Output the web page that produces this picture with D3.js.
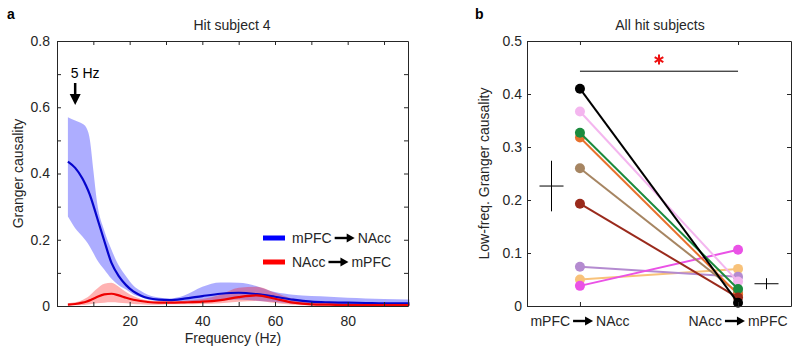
<!DOCTYPE html>
<html>
<head>
<meta charset="utf-8">
<script src="https://cdn.jsdelivr.net/npm/d3@7"></script>
<style>
  body { margin: 0; background: #fff; }
  svg { font-family: Arial, "Liberation Sans", sans-serif; }
  .axis text { font-size: 14px; fill: #262626; }
  .axis path, .axis line { stroke: #262626; }
</style>
</head>
<body>
<div id="chart"></div>
<script>
// ---- panel a data ----
const freq = [3, 5, 7, 8, 9, 10, 11, 13, 15, 17, 19, 21, 23, 25, 28, 31, 35, 40, 45, 50, 55, 60, 65, 70, 75, 80, 85, 90, 97];
const fwdMean  = [.436, .417, .385, .363, .337, .304, .268, .197, .13, .09, .063, .044, .032, .024, .019, .018, .022, .03, .037, .04, .036, .028, .019, .013, .011, .01, .009, .008, .008];
const fwdUpper = [.57, .56, .55, .54, .505, .41, .315, .228, .17, .122, .09, .062, .046, .034, .026, .023, .032, .058, .071, .07, .06, .042, .034, .03, .028, .025, .023, .021, .02];
const fwdLower = [.27, .235, .21, .196, .18, .16, .14, .11, .082, .063, .05, .035, .027, .02, .015, .014, .014, .016, .018, .02, .016, .012, .007, .005, .004, .004, .003, .003, .003];
const bwdMean  = [.004, .006, .01, .013, .017, .022, .027, .035, .037, .032, .025, .019, .015, .012, .01, .01, .011, .013, .018, .027, .032, .022, .01, .005, .004, .003, .003, .003, .003];
const bwdUpper = [.008, .011, .018, .024, .032, .042, .052, .067, .07, .058, .042, .03, .022, .017, .014, .014, .016, .021, .034, .055, .058, .04, .022, .012, .009, .008, .007, .006, .005];
const bwdLower = [.001, .002, .003, .004, .005, .007, .008, .01, .011, .01, .008, .006, .005, .004, .004, .005, .005, .006, .008, .013, .015, .009, .004, .002, .001, .001, .001, .001, .001];

// ---- panel b data ----
const conds = [1, 2];
const subjColors = ["#f8c27a", "#b48bd0", "#ea52e6", "#a68562", "#f4b6ef", "#e8702c", "#1b8b3e", "#9a2a1c", "#000000"];
const subjFwd = [0.050, 0.074, 0.038, 0.260, 0.367, 0.318, 0.327, 0.193, 0.410];
const subjBwd = [0.070, 0.055, 0.106, 0.025, 0.046, 0.022, 0.032, 0.016, 0.006];

const W = 800, H = 356;
const svg = d3.select("#chart").append("svg").attr("width", W).attr("height", H);

// draws "left ➜ right" with a filled arrow in between, centred at cx
function arrowLabel(g, cx, y, left, right) {
  const grp = g.append("g");
  const t1 = grp.append("text").attr("y", y).style("font-size", "14px").attr("fill", "#262626").text(left);
  const t2 = grp.append("text").attr("y", y).style("font-size", "14px").attr("fill", "#262626").text(right);
  const w1 = t1.node().getComputedTextLength(), w2 = t2.node().getComputedTextLength();
  const aw = 20, gap = 3;
  const total = w1 + gap + aw + gap + w2;
  const x0 = cx - total / 2;
  t1.attr("x", x0);
  t2.attr("x", x0 + w1 + gap * 2 + aw);
  const ax = x0 + w1 + gap, ay = y - 5;
  grp.append("line").attr("x1", ax).attr("x2", ax + aw - 6).attr("y1", ay).attr("y2", ay)
    .attr("stroke", "#000").attr("stroke-width", 2.4);
  grp.append("path").attr("d", `M${ax + aw - 8},${ay - 4.5}L${ax + aw},${ay}L${ax + aw - 8},${ay + 4.5}Z`).attr("fill", "#000");
  return total;
}

// ================= panel a =================
const xA = d3.scaleLinear().domain([0, 96.6]).range([57, 408]);
const yA = d3.scaleLinear().domain([0, 0.8]).range([306, 41]);

const gA = svg.append("g");

const band = (lo, hi) => d3.area().curve(d3.curveMonotoneX)
  .x((d, i) => xA(freq[i])).y0((d, i) => yA(lo[i])).y1((d, i) => yA(hi[i]));
const line = vals => d3.line().curve(d3.curveMonotoneX)
  .x((d, i) => xA(freq[i])).y((d, i) => yA(vals[i]));

gA.append("path").attr("d", band(fwdLower, fwdUpper)(freq)).attr("fill", "#0000ff").attr("fill-opacity", 0.32);
gA.append("path").attr("d", band(bwdLower, bwdUpper)(freq)).attr("fill", "#ff0000").attr("fill-opacity", 0.3);
gA.append("path").attr("d", line(fwdMean)(freq)).attr("fill", "none").attr("stroke", "#0505cc").attr("stroke-width", 2.2);
gA.append("path").attr("d", line(bwdMean)(freq)).attr("fill", "none").attr("stroke", "#ee0000").attr("stroke-width", 2.2);

// axes, matlab-like box with inward ticks
const xTicksA = d3.range(10, 100, 10);
const yTicksA = d3.range(0, 0.81, 0.1).map(v => +v.toFixed(1));
gA.append("g").attr("class", "axis").attr("transform", "translate(0,306)")
  .call(d3.axisBottom(xA).tickValues(xTicksA).tickSizeInner(-4).tickSizeOuter(0).tickPadding(10)
    .tickFormat(d => d % 20 === 0 ? d : ""));
gA.append("g").attr("class", "axis").attr("transform", "translate(0,41)")
  .call(d3.axisTop(xA).tickValues(xTicksA).tickSizeInner(-4).tickSizeOuter(0).tickFormat(""));
gA.append("g").attr("class", "axis").attr("transform", "translate(57,0)")
  .call(d3.axisLeft(yA).tickValues(yTicksA).tickSizeInner(-4).tickSizeOuter(0).tickPadding(7)
    .tickFormat(d => Math.round(d * 10) % 2 === 0 ? (d === 0 ? "0" : d3.format(".1f")(d)) : ""));
gA.append("g").attr("class", "axis").attr("transform", "translate(408,0)")
  .call(d3.axisRight(yA).tickValues(yTicksA).tickSizeInner(-4).tickSizeOuter(0).tickFormat(""));

gA.append("text").attr("x", 232).attr("y", 30).attr("text-anchor", "middle").style("font-size", "14px")
  .attr("fill", "#262626").text("Hit subject 4");
gA.append("text").attr("x", 233).attr("y", 343).attr("text-anchor", "middle").style("font-size", "14px")
  .attr("fill", "#262626").text("Frequency (Hz)");
gA.append("text").attr("transform", `translate(23,${(306 + 41) / 2}) rotate(-90)`).attr("text-anchor", "middle")
  .style("font-size", "14px").attr("fill", "#262626").text("Granger causality");
gA.append("text").attr("x", 7).attr("y", 19).style("font-size", "14px").style("font-weight", "bold").text("a");

// 5 Hz marker
const ax5 = xA(5);
gA.append("text").attr("x", ax5 + 10).attr("y", 78).attr("text-anchor", "middle").style("font-size", "14px").text("5 Hz");
gA.append("line").attr("x1", ax5).attr("x2", ax5).attr("y1", 83).attr("y2", 96).attr("stroke", "#000").attr("stroke-width", 2.5);
gA.append("path").attr("d", `M${ax5 - 5.5},${94}L${ax5 + 5.5},${94}L${ax5},${105}Z`).attr("fill", "#000");

// legend
const legA = gA.append("g");
[["#0000ff", "mPFC", "NAcc", 238], ["#ff0000", "NAcc", "mPFC", 262]].forEach(([c, l, r, yy]) => {
  legA.append("rect").attr("x", 263).attr("y", yy - 2.5).attr("width", 22).attr("height", 5).attr("fill", c);
  const g = legA.append("g");
  const tw = arrowLabel(g, 0, yy + 5, l, r);
  g.attr("transform", `translate(${292 + tw / 2},0)`);
});

// ================= panel b =================
const xB = d3.scaleLinear().domain([0.665, 2.335]).range([527, 791]);
const yB = d3.scaleLinear().domain([0, 0.5]).range([306, 41]);
const gB = svg.append("g");

subjFwd.forEach((v, i) => {
  gB.append("line").attr("x1", xB(1)).attr("x2", xB(2)).attr("y1", yB(v)).attr("y2", yB(subjBwd[i]))
    .attr("stroke", subjColors[i]).attr("stroke-width", 2);
  gB.append("circle").attr("cx", xB(1)).attr("cy", yB(v)).attr("r", 5).attr("fill", subjColors[i]);
  gB.append("circle").attr("cx", xB(2)).attr("cy", yB(subjBwd[i])).attr("r", 5).attr("fill", subjColors[i]);
});

// mean +- sem crosses beside each column
[[subjFwd, 0.82], [subjBwd, 2.18]].forEach(([vals, xc]) => {
  const m = d3.mean(vals), sem = d3.deviation(vals) / Math.sqrt(vals.length);
  gB.append("line").attr("x1", xB(xc - 0.076)).attr("x2", xB(xc + 0.076)).attr("y1", yB(m)).attr("y2", yB(m))
    .attr("stroke", "#000").attr("stroke-width", 1);
  gB.append("line").attr("x1", xB(xc)).attr("x2", xB(xc)).attr("y1", yB(m - sem)).attr("y2", yB(m + sem))
    .attr("stroke", "#000").attr("stroke-width", 1);
});

// significance bar
gB.append("line").attr("x1", xB(1)).attr("x2", xB(2)).attr("y1", yB(0.443)).attr("y2", yB(0.443))
  .attr("stroke", "#000").attr("stroke-width", 1);
const sx = xB(1.5), sy = yB(0.465), sr = 5;
gB.append("path")
  .attr("d", [0, 60, 120].map(a => {
    const r = (a + 90) * Math.PI / 180;
    return `M${sx + sr * Math.cos(r)},${sy - sr * Math.sin(r)}L${sx - sr * Math.cos(r)},${sy + sr * Math.sin(r)}`;
  }).join(""))
  .attr("stroke", "#ee1111").attr("stroke-width", 2);

const yTicksB = d3.range(0, 0.51, 0.1).map(v => +v.toFixed(1));
gB.append("g").attr("class", "axis").attr("transform", "translate(0,306)")
  .call(d3.axisBottom(xB).tickValues(conds).tickSizeInner(-4).tickSizeOuter(0).tickFormat(""));
gB.append("g").attr("class", "axis").attr("transform", "translate(0,41)")
  .call(d3.axisTop(xB).tickValues(conds).tickSizeInner(-4).tickSizeOuter(0).tickFormat(""));
gB.append("g").attr("class", "axis").attr("transform", "translate(527,0)")
  .call(d3.axisLeft(yB).tickValues(yTicksB).tickSizeInner(-4).tickSizeOuter(0).tickPadding(5)
    .tickFormat(d => d === 0 ? "0" : d3.format(".1f")(d)));
gB.append("g").attr("class", "axis").attr("transform", "translate(791,0)")
  .call(d3.axisRight(yB).tickValues(yTicksB).tickSizeInner(-4).tickSizeOuter(0).tickFormat(""));

arrowLabel(gB, xB(1), 326, "mPFC", "NAcc");
arrowLabel(gB, xB(2), 326, "NAcc", "mPFC");

gB.append("text").attr("x", 660).attr("y", 30).attr("text-anchor", "middle").style("font-size", "14px")
  .attr("fill", "#262626").text("All hit subjects");
gB.append("text").attr("transform", `translate(489,${(306 + 41) / 2}) rotate(-90)`).attr("text-anchor", "middle")
  .style("font-size", "14px").attr("fill", "#262626").text("Low-freq. Granger causality");
gB.append("text").attr("x", 475).attr("y", 19).style("font-size", "14px").style("font-weight", "bold").text("b");
</script>
</body>
</html>
